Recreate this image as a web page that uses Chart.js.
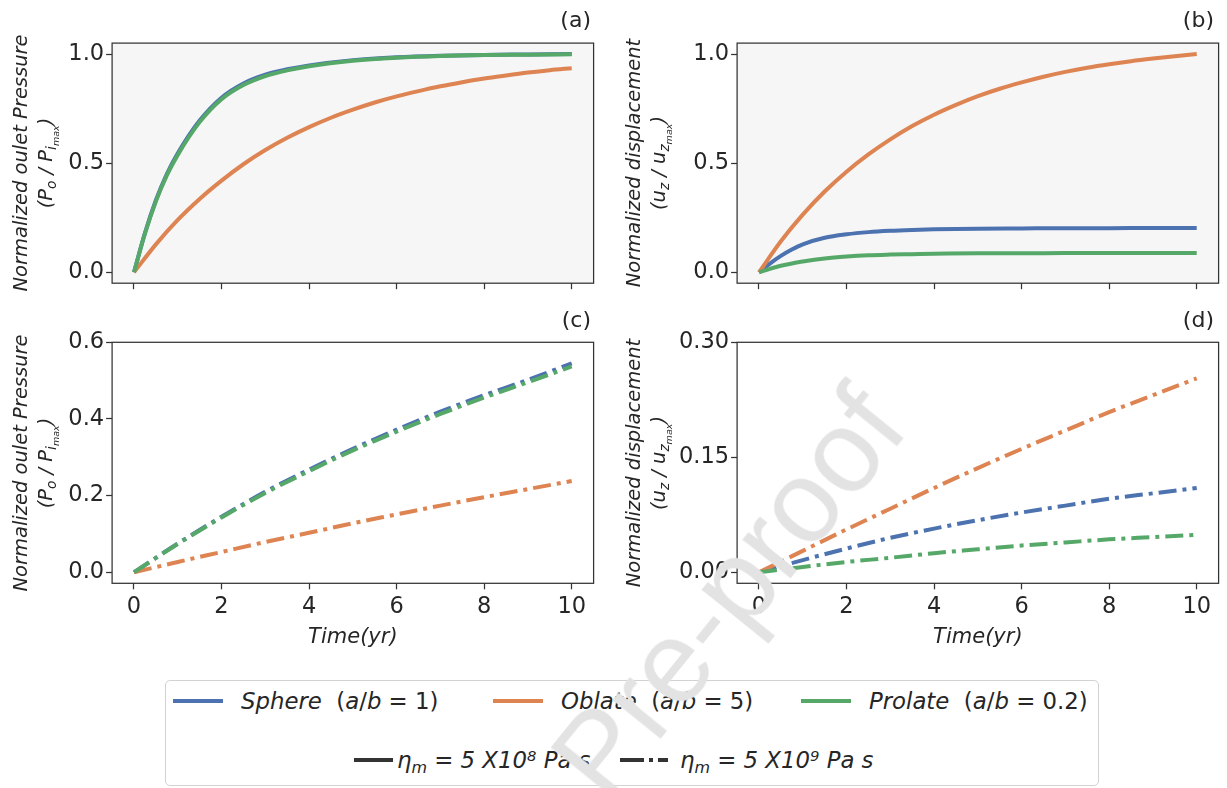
<!DOCTYPE html>
<html><head><meta charset="utf-8">
<script src="https://cdn.jsdelivr.net/npm/chart.js@4.4.1/dist/chart.umd.min.js"></script>
<style>
html,body{margin:0;padding:0;background:#fff;width:1227px;height:788px;overflow:hidden;position:relative;font-family:"DejaVu Sans",sans-serif;color:#262626}
canvas{position:absolute}
.ylab{position:absolute;transform:translate(-50%,-50%) rotate(-90deg);white-space:nowrap;text-align:center;font-size:19.5px;line-height:25px;font-style:italic;color:#262626}
.ylab .l2{font-size:19.5px}
sub{font-size:0.7em;vertical-align:-0.3em;line-height:0}
sup{font-size:0.65em;vertical-align:0.5em;line-height:0}
.plab{position:absolute;font-size:22px;line-height:24px;color:#262626;text-align:right;width:60px}
#legend{position:absolute;left:165px;top:680px;width:934px;height:106px;border:1px solid #d2d2d2;border-radius:5px;box-sizing:border-box}
.lsw{position:absolute;height:4px}
.ltx{position:absolute;font-size:22.8px;line-height:26px;white-space:nowrap;color:#262626}
.ltx i{font-style:italic}
#wm{position:absolute;left:728px;top:592px;transform:translate(-50%,-50%) rotate(-51deg);font-family:"Liberation Sans",sans-serif;font-size:116px;color:#e3e3e3;white-space:nowrap;line-height:1;z-index:10}
</style></head>
<body>
<canvas id="cA" width="613" height="300" style="left:0;top:0"></canvas>
<canvas id="cB" width="607" height="300" style="left:620px;top:0"></canvas>
<canvas id="cC" width="613" height="350" style="left:0;top:300px"></canvas>
<canvas id="cD" width="607" height="350" style="left:620px;top:300px"></canvas>

<div class="ylab" style="left:33px;top:163px">Normalized oulet Pressure<br><span class="l2">(<i>P</i><sub>o</sub> / <i>P</i><sub><i>i</i><sub>max</sub></sub>)</span></div>
<div class="ylab" style="left:646px;top:163px">Normalized displacement<br><span class="l2">(<i>u</i><sub>z</sub> / <i>u</i><sub><i>z</i><sub>max</sub></sub>)</span></div>
<div class="ylab" style="left:33px;top:463px">Normalized oulet Pressure<br><span class="l2">(<i>P</i><sub>o</sub> / <i>P</i><sub><i>i</i><sub>max</sub></sub>)</span></div>
<div class="ylab" style="left:646px;top:463px">Normalized displacement<br><span class="l2">(<i>u</i><sub>z</sub> / <i>u</i><sub><i>z</i><sub>max</sub></sub>)</span></div>

<div class="plab" style="left:531px;top:8px">(a)</div>
<div class="plab" style="left:1154px;top:8px">(b)</div>
<div class="plab" style="left:531px;top:308px">(c)</div>
<div class="plab" style="left:1154px;top:308px">(d)</div>

<div id="legend"></div>
<div class="lsw" style="left:173px;top:699px;width:50px;background:#4C72B0"></div>
<div class="ltx" style="left:241px;top:688px"><i>Sphere</i>&nbsp; (<i>a</i>/<i>b</i> = 1)</div>
<div class="lsw" style="left:493px;top:699px;width:50px;background:#DD8452"></div>
<div class="ltx" style="left:561px;top:688px"><i>Oblate</i>&nbsp; (<i>a</i>/<i>b</i> = 5)</div>
<div class="lsw" style="left:801px;top:699px;width:50px;background:#55A868"></div>
<div class="ltx" style="left:869px;top:688px"><i>Prolate</i>&nbsp; (<i>a</i>/<i>b</i> = 0.2)</div>
<div class="lsw" style="left:354px;top:758px;width:39px;background:#333"></div>
<div class="ltx" style="left:397px;top:747px"><i>η<sub>m</sub> = 5 X10<sup>8</sup> Pa s</i></div>
<svg style="position:absolute;left:620px;top:756px" width="48" height="8"><line x1="0" y1="4" x2="48" y2="4" stroke="#333" stroke-width="4" stroke-dasharray="24 5 4 5"/></svg>
<div class="ltx" style="left:680px;top:747px"><i>η<sub>m</sub> = 5 X10<sup>9</sup> Pa s</i></div>

<div id="wm">Pre-proof</div>

<script>
// ---- data ----
const tFine = [0, 0.25, 0.5, 0.75, 1, 1.5, 2, 2.5, 3, 3.5, 4, 5, 6, 7, 8, 9, 10];
const tHalf = [0, 0.5, 1, 1.5, 2, 2.5, 3, 3.5, 4, 4.5, 5, 5.5, 6, 6.5, 7, 7.5, 8, 8.5, 9, 9.5, 10];
const tUnit = [0, 1, 2, 3, 4, 5, 6, 7, 8, 9, 10];

// (a) normalized outlet pressure, eta = 5e8
const sphereA  = [0, 0.18, 0.33, 0.45, 0.545, 0.695, 0.80, 0.865, 0.905, 0.93, 0.948, 0.972, 0.985, 0.992, 0.996, 0.998, 1.0];
const prolateA = [0, 0.177, 0.325, 0.444, 0.538, 0.688, 0.793, 0.858, 0.899, 0.925, 0.944, 0.969, 0.983, 0.991, 0.995, 0.997, 0.999];
const oblateA  = [0, 0.128, 0.24, 0.336, 0.42, 0.495, 0.56, 0.616, 0.665, 0.708, 0.745, 0.778, 0.806, 0.83, 0.852, 0.871, 0.888, 0.902, 0.915, 0.926, 0.935];
// (b) normalized displacement, eta = 5e8
const sphereB  = [0, 0.04, 0.075, 0.104, 0.128, 0.158, 0.174, 0.184, 0.19, 0.194, 0.197, 0.2, 0.201, 0.202, 0.202, 0.203, 0.203];
const prolateB = [0, 0.016, 0.03, 0.04, 0.049, 0.063, 0.072, 0.078, 0.081, 0.083, 0.085, 0.087, 0.087, 0.088, 0.088, 0.088, 0.088];
const oblateB  = [0, 0.142, 0.264, 0.37, 0.461, 0.54, 0.609, 0.67, 0.722, 0.767, 0.807, 0.841, 0.87, 0.896, 0.918, 0.937, 0.953, 0.967, 0.979, 0.99, 1.0];
// (c) normalized outlet pressure, eta = 5e9
const sphereC  = [0, 0.075, 0.145, 0.21, 0.268, 0.322, 0.372, 0.419, 0.462, 0.502, 0.545];
const prolateC = [0, 0.074, 0.143, 0.207, 0.264, 0.318, 0.367, 0.413, 0.456, 0.496, 0.537];
const oblateC  = [0, 0.027, 0.053, 0.079, 0.103, 0.128, 0.151, 0.174, 0.196, 0.217, 0.238];
// (d) normalized displacement, eta = 5e9
const sphereD  = [0, 0.016, 0.031, 0.045, 0.057, 0.068, 0.078, 0.087, 0.096, 0.103, 0.110];
const prolateD = [0, 0.007, 0.0135, 0.019, 0.025, 0.030, 0.035, 0.039, 0.043, 0.046, 0.049];
const oblateD  = [0, 0.028, 0.056, 0.083, 0.11, 0.136, 0.161, 0.185, 0.209, 0.231, 0.253];

// ticks
const xTicks = [0, 2, 4, 6, 8, 10];
const xTickLabels = ['0', '2', '4', '6', '8', '10'];
const yTicksTop = [0, 0.5, 1.0];
const yTickLabelsTop = ['0.0', '0.5', '1.0'];
const yTicksC = [0, 0.2, 0.4, 0.6];
const yTickLabelsC = ['0.0', '0.2', '0.4', '0.6'];
const yTicksD = [0, 0.15, 0.30];
const yTickLabelsD = ['0.00', '0.15', '0.30'];

const seriesNames = ['Sphere', 'Oblate', 'Prolate'];
const colors = {Sphere: '#4C72B0', Oblate: '#DD8452', Prolate: '#55A868'};

// ---- chart helpers ----
const FONT = '"DejaVu Sans", sans-serif';
const INK = '#262626';
const framePlugin = {
  id: 'frame',
  beforeDraw(c, a, o) {
    const r = c.chartArea, ctx = c.ctx;
    ctx.save(); ctx.fillStyle = o.bg;
    ctx.fillRect(r.left, r.top, r.right - r.left, r.bottom - r.top); ctx.restore();
  },
  afterDraw(c) {
    const r = c.chartArea, ctx = c.ctx;
    ctx.save(); ctx.strokeStyle = '#333'; ctx.lineWidth = 1.25;
    ctx.strokeRect(r.left, r.top, r.right - r.left, r.bottom - r.top); ctx.restore();
  }
};

function pts(ts, ys) { return ts.map((t, i) => ({x: t, y: ys[i]})); }

function make(id, o) {
  const dash = o.dashed ? [18, 6, 4, 6] : [];
  const ds = o.series.map((s, k) => ({
    label: s.name,
    data: pts(s.t, s.y),
    borderColor: colors[s.name],
    borderWidth: 4,
    borderDash: dash,
    borderCapStyle: 'butt',
    pointRadius: 0,
    fill: false,
    cubicInterpolationMode: 'monotone',
    order: s.name === 'Sphere' ? 3 : (s.name === 'Oblate' ? 2 : 1)
  }));
  return new Chart(document.getElementById(id), {
    type: 'line',
    data: {datasets: ds},
    plugins: [framePlugin],
    options: {
      responsive: false, animation: false, devicePixelRatio: 1,
      layout: {padding: o.pad},
      plugins: {legend: {display: false}, tooltip: {enabled: false}, frame: {bg: o.bg}},
      scales: {
        x: {
          type: 'linear', min: -0.5, max: 10.5,
          afterBuildTicks: s => { s.ticks = xTicks.map(v => ({value: v})); },
          afterFit: s => { s.height = o.xh; s.paddingLeft = 0; s.paddingRight = 0; },
          ticks: {display: o.xlabels, autoSkip: false, maxRotation: 0, padding: 4,
                  color: INK, font: {family: FONT, size: 22.5},
                  callback: (v, i) => xTickLabels[i]},
          grid: {drawOnChartArea: false, drawTicks: true, tickLength: 6, tickWidth: 1.25, tickColor: '#333'},
          border: {display: false},
          title: {display: o.xlabels, text: 'Time(yr)', color: INK,
                  font: {family: FONT, size: 21, style: 'italic'}, padding: {top: 0, bottom: 0}}
        },
        y: {
          type: 'linear', min: o.ymin, max: o.ymax,
          afterBuildTicks: s => { s.ticks = o.yt.map(v => ({value: v})); },
          afterFit: s => { s.width = o.yw; s.paddingTop = 0; s.paddingBottom = 0; },
          ticks: {autoSkip: false, padding: 2, color: INK, font: {family: FONT, size: 22.5},
                  callback: (v, i) => o.ytl[i]},
          grid: {drawOnChartArea: false, drawTicks: true, tickLength: 6, tickWidth: 1.25, tickColor: '#333'},
          border: {display: false}
        }
      }
    }
  });
}

make('cA', {bg: '#f6f6f6', dashed: false, xlabels: false, xh: 16.8, yw: 112.1,
  pad: {top: 43.1, right: 19.4, left: 0, bottom: 0}, ymin: -0.05, ymax: 1.05,
  yt: yTicksTop, ytl: yTickLabelsTop,
  series: [{name: 'Sphere', t: tFine, y: sphereA}, {name: 'Oblate', t: tHalf, y: oblateA}, {name: 'Prolate', t: tFine, y: prolateA}]});
make('cB', {bg: '#f6f6f6', dashed: false, xlabels: false, xh: 16.8, yw: 117.1,
  pad: {top: 43.1, right: 8.4, left: 0, bottom: 0}, ymin: -0.05, ymax: 1.05,
  yt: yTicksTop, ytl: yTickLabelsTop,
  series: [{name: 'Sphere', t: tFine, y: sphereB}, {name: 'Oblate', t: tHalf, y: oblateB}, {name: 'Prolate', t: tFine, y: prolateB}]});
make('cC', {bg: '#ffffff', dashed: true, xlabels: true, xh: 66.7, yw: 112.1,
  pad: {top: 42.3, right: 19.4, left: 0, bottom: 0}, ymin: -0.0287, ymax: 0.6,
  yt: yTicksC, ytl: yTickLabelsC,
  series: [{name: 'Sphere', t: tUnit, y: sphereC}, {name: 'Oblate', t: tUnit, y: oblateC}, {name: 'Prolate', t: tUnit, y: prolateC}]});
make('cD', {bg: '#ffffff', dashed: true, xlabels: true, xh: 66.7, yw: 117.1,
  pad: {top: 42.3, right: 8.4, left: 0, bottom: 0}, ymin: -0.0143, ymax: 0.30,
  yt: yTicksD, ytl: yTickLabelsD,
  series: [{name: 'Sphere', t: tUnit, y: sphereD}, {name: 'Oblate', t: tUnit, y: oblateD}, {name: 'Prolate', t: tUnit, y: prolateD}]});
</script>
</body></html>
